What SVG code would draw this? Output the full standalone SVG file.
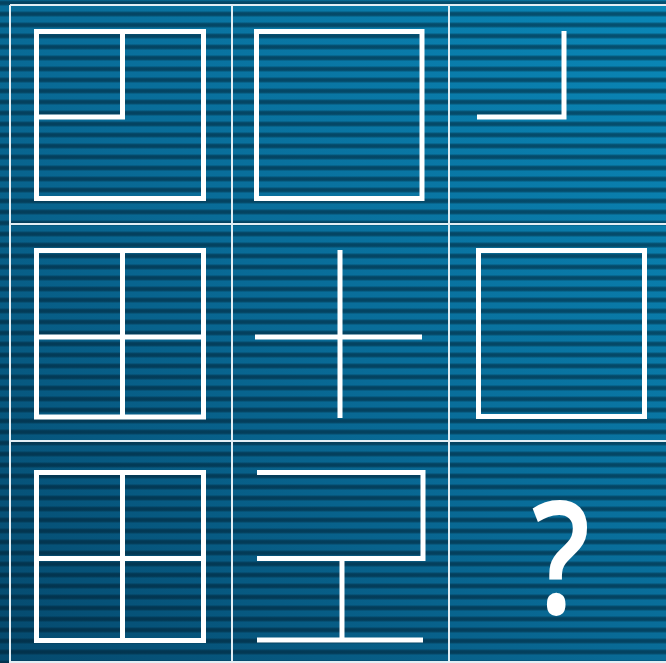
<svg xmlns="http://www.w3.org/2000/svg" width="666" height="663" viewBox="0 0 666 663">
  <defs>
    <linearGradient id="bg" x1="1" y1="0" x2="0" y2="1">
      <stop offset="0" stop-color="#0a88b8"/>
      <stop offset="0.5" stop-color="#096c98"/>
      <stop offset="1" stop-color="#05496d"/>
    </linearGradient>
    <linearGradient id="band" x1="0" y1="0" x2="0" y2="1">
      <stop offset="0" stop-color="#001a2a" stop-opacity="0.05"/>
      <stop offset="0.3" stop-color="#001a2a" stop-opacity="0.5"/>
      <stop offset="0.7" stop-color="#001a2a" stop-opacity="0.5"/>
      <stop offset="1" stop-color="#001a2a" stop-opacity="0.05"/>
    </linearGradient>
    <pattern id="stripes" x="0" y="0" width="666" height="11" patternUnits="userSpaceOnUse">
      <rect x="0" y="0" width="666" height="6" fill="url(#band)"/>
    </pattern>
  </defs>
  <style>
    .grid { stroke: #e2eef4; stroke-width: 2; fill: none; }
    .fig { stroke: #ffffff; stroke-width: 5; fill: none; stroke-linecap: butt; stroke-linejoin: miter; }
    .q { fill: #ffffff; font-family: "Open Sans", "Noto Sans", sans-serif; font-size: 158px; font-weight: 600; text-anchor: middle; }
  </style>
  <rect width="666" height="663" fill="url(#bg)"/>
  <rect width="666" height="663" fill="url(#stripes)"/>

  <g id="grid">
    <line class="grid" x1="10" y1="5" x2="10" y2="663"/>
    <line class="grid" x1="232" y1="5" x2="232" y2="663"/>
    <line class="grid" x1="449" y1="5" x2="449" y2="663"/>
    <line class="grid" x1="10" y1="5" x2="666" y2="5"/>
    <line class="grid" x1="10" y1="224" x2="666" y2="224"/>
    <line class="grid" x1="10" y1="441" x2="666" y2="441"/>
    <line class="grid" x1="10" y1="662" x2="666" y2="662"/>
  </g>

  <g id="cell-1-1">
    <rect class="fig" x="36.5" y="31.5" width="167" height="167"/>
    <polyline class="fig" points="36.5,117 122.5,117 122.5,31.5"/>
  </g>
  <g id="cell-1-2">
    <rect class="fig" x="256.5" y="31.5" width="165.5" height="167"/>
  </g>
  <g id="cell-1-3">
    <polyline class="fig" points="477,117 564,117 564,31"/>
  </g>

  <g id="cell-2-1">
    <rect class="fig" x="36.5" y="250.5" width="167" height="166.5"/>
    <line class="fig" x1="122.5" y1="250.5" x2="122.5" y2="417"/>
    <line class="fig" x1="36.5" y1="337" x2="203.5" y2="337"/>
  </g>
  <g id="cell-2-2">
    <line class="fig" x1="340" y1="250" x2="340" y2="418"/>
    <line class="fig" x1="255" y1="337" x2="422" y2="337"/>
  </g>
  <g id="cell-2-3">
    <rect class="fig" x="478.5" y="250.5" width="166" height="166"/>
  </g>

  <g id="cell-3-1">
    <rect class="fig" x="36.5" y="472.5" width="167" height="168"/>
    <line class="fig" x1="122.5" y1="472.5" x2="122.5" y2="640.5"/>
    <line class="fig" x1="36.5" y1="558.5" x2="203.5" y2="558.5"/>
  </g>
  <g id="cell-3-2">
    <polyline class="fig" points="257,472.5 423,472.5 423,558.5 257,558.5"/>
    <line class="fig" x1="342" y1="558.5" x2="342" y2="640"/>
    <line class="fig" x1="257" y1="640" x2="423" y2="640"/>
  </g>
  <g id="cell-3-3">
    <text class="q" transform="translate(561,0) scale(0.82,1)" x="0" y="614">?</text>
  </g>
</svg>
